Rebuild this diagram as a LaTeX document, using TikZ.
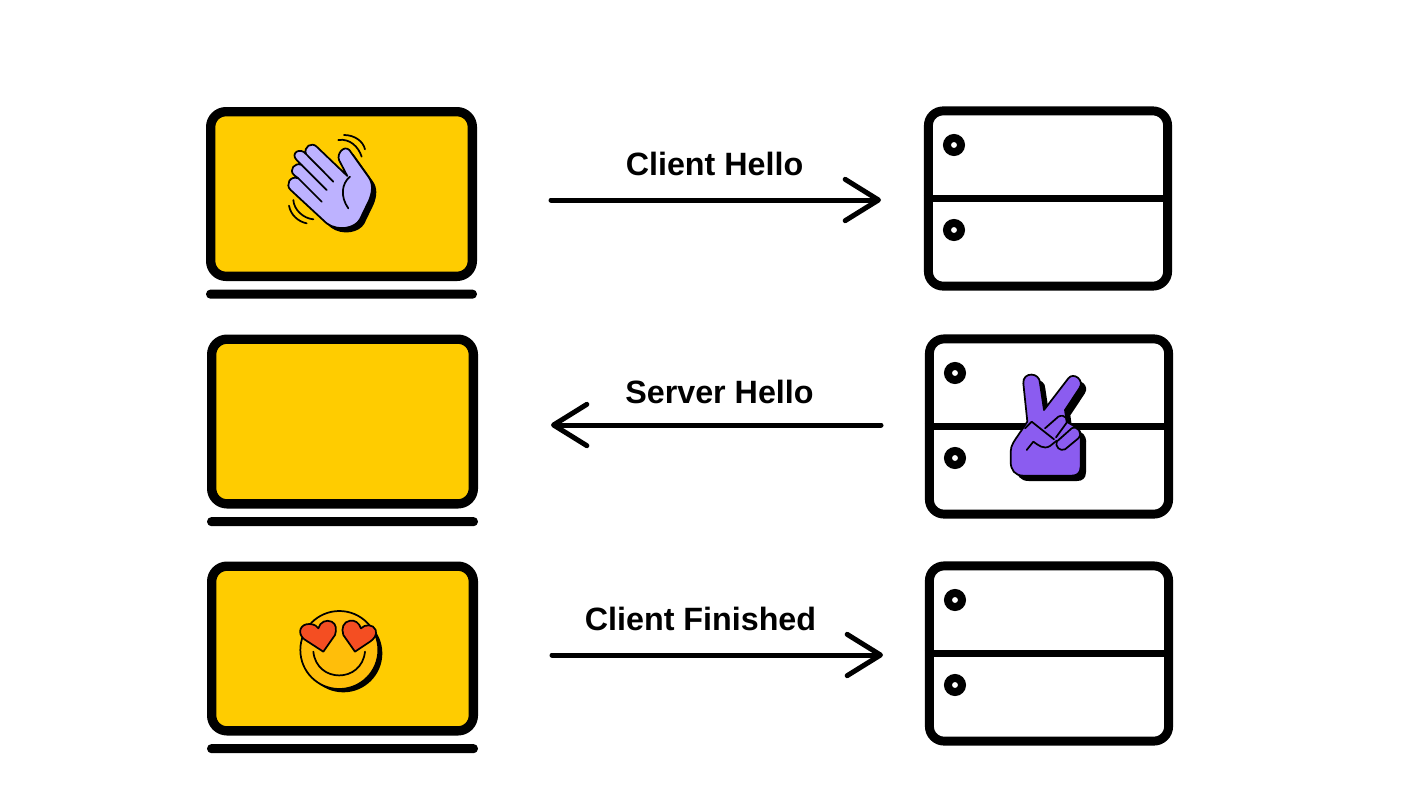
\documentclass[tikz,border=0pt]{standalone}
\usepackage{fontspec}
\setmainfont{Liberation Sans}
\usetikzlibrary{positioning,arrows.meta}

\definecolor{screenyellow}{HTML}{FFCC00}
\definecolor{handlilac}{HTML}{BDB2FF}
\definecolor{handviolet}{HTML}{8B5CF0}
\definecolor{heartred}{HTML}{F44E22}
\definecolor{smileamber}{HTML}{FFBE0A}

% icon outlines, in units of a third of a pixel
\def\waveoutline{(232,168) -- (207,120) .. controls (200,100) and (222,75) .. (238,90) -- (295,170) .. controls (310,190) and (308,215) .. (298,240) -- (270,298) .. controls (255,325) and (205,335) .. (170,310) -- (62,210) .. controls (45,195) and (60,165) .. (85,175) -- (72,165) .. controls (55,150) and (75,125) .. (95,135) -- (80,120) .. controls (60,100) and (90,80) .. (108,102) .. controls (100,80) and (125,65) .. (140,80) -- cycle}
\def\peaceoutline{(112,185) -- (100,70) .. controls (97,35) and (150,35) .. (150,70) -- (162,150) -- (235,55) .. controls (250,35) and (285,60) .. (268,85) -- (225,150) -- (230,185) -- (255,200) .. controls (270,205) and (275,225) .. (272,240) -- (272,320) .. controls (272,340) and (260,347) .. (245,347) -- (100,347) .. controls (75,347) and (62,330) .. (62,305) -- (62,275) .. controls (62,255) and (75,240) .. (85,225) -- cycle}

\begin{document}
\begin{tikzpicture}[
    x=0.75pt, y=-0.75pt,
    screen/.style={
        draw,
        line width=7pt,
        rounded corners=11.5pt,
        fill=screenyellow,
        minimum width=196.25pt,
        minimum height=123.5pt,
        inner sep=0pt
    },
    standbar/.style={
        fill=black,
        rounded corners=3.4pt,
        minimum width=203.25pt,
        minimum height=6.9pt,
        inner sep=0pt
    },
    rack/.style={
        draw,
        line width=6.7pt,
        rounded corners=11pt,
        fill=white,
        minimum width=179.4pt,
        minimum height=131.4pt,
        inner sep=0pt
    },
    led/.style={
        circle,
        draw,
        line width=6pt,
        fill=white,
        minimum size=10.5pt,
        inner sep=0pt
    },
    divider/.style={line width=5.5pt},
    message/.style={
        line width=3.75pt,
        line cap=round,
        -{Straight Barb[length=25pt,width=31pt,round]}
    },
    msglabel/.style={font=\fontsize{24.2}{29}\selectfont\bfseries},
    iconline/.style={line width=1.3pt, line cap=round, line join=round}
]
    \useasboundingbox (0,0) rectangle (1403,811);

    % Laptops
    \node[screen] (laptopA) at (341.5,194) {};
    \node[standbar, below=6.2pt of laptopA] (standA) {};
    \node[screen] (laptopB) at (342.5,421.5) {};
    \node[standbar, below=6.2pt of laptopB] (standB) {};
    \node[screen] (laptopC) at (342.5,648.5) {};
    \node[standbar, below=6.2pt of laptopC] (standC) {};

    % Servers
    \node[rack] (serverA) at (1048,198.5) {};
    \node[rack] (serverB) at (1049,426.5) {};
    \node[rack] (serverC) at (1049,653.5) {};
    \draw[divider] (serverA.west) -- (serverA.east);
    \draw[divider] (serverB.west) -- (serverB.east);
    \draw[divider] (serverC.west) -- (serverC.east);
    \node[led] (ledA1) at (954,145) {};
    \node[led] (ledA2) at (954,230) {};
    \node[led] (ledB1) at (955,373) {};
    \node[led] (ledB2) at (955,458) {};
    \node[led] (ledC1) at (955,600) {};
    \node[led] (ledC2) at (955,685) {};

    % Messages
    \coordinate (sendA) at (551,200);
    \coordinate (recvA) at (881,200);
    \coordinate (sendB) at (881,425);
    \coordinate (recvB) at (551,425);
    \coordinate (sendC) at (552,655);
    \coordinate (recvC) at (883,655);
    \draw[message] (sendA) -- (recvA);
    \draw[message] (sendB) -- (recvB);
    \draw[message] (sendC) -- (recvC);
    \node[msglabel] (labelA) at (714.5,164) {Client Hello};
    \node[msglabel] (labelB) at (719.5,392) {Server Hello};
    \node[msglabel] (labelC) at (700.5,619) {Client Finished};

    % Waving hand
    \begin{scope}[shift={(270,120)}, scale=1/3]
        \fill[shift={(13,13)}] \waveoutline;
        \draw[iconline, fill=handlilac] \waveoutline;
        \draw[iconline] (85,175) -- (155,245) (95,135) -- (170,210) (108,102) -- (190,185);
        \draw[iconline] (240,170) .. controls (215,190) and (210,230) .. (235,265);
        \draw[iconline] (205,60) .. controls (240,55) and (265,80) .. (275,110);
        \draw[iconline] (222,45) .. controls (255,45) and (280,65) .. (285,88);
        \draw[iconline] (70,240) .. controls (72,270) and (100,295) .. (130,298);
        \draw[iconline] (57,257) .. controls (62,285) and (85,305) .. (110,310);
    \end{scope}

    % Victory hand
    \begin{scope}[shift={(990,360)}, scale=1/3]
        \fill[shift={(16,16)}] \peaceoutline;
        \draw[iconline, fill=handviolet] \peaceoutline;
        \draw[iconline] (105,205) -- (125,185) -- (192,238);
        \draw[iconline] (165,205) -- (205,170) .. controls (225,160) and (240,180) .. (225,195) -- (198,232);
        \draw[iconline, fill=handviolet] (200,245) -- (245,205) .. controls (262,195) and (280,220) .. (265,235) -- (225,268) .. controls (210,275) and (195,260) .. (200,245);
        \draw[iconline] (110,270) -- (130,245) .. controls (145,255) and (160,270) .. (180,258) -- (200,242);
    \end{scope}

    % Smiley with heart eyes
    \begin{scope}[shift={(285,600)}, scale=1/3]
        \fill (175,160) circle[radius=117];
        \draw[iconline, fill=smileamber] (163,150) circle[radius=117];
        \draw[iconline, fill=heartred] (115,155) -- (58,118) .. controls (35,100) and (45,70) .. (75,72) .. controls (90,73) and (97,80) .. (100,85) .. controls (105,65) and (125,58) .. (140,65) .. controls (155,72) and (155,90) .. (150,105) -- cycle;
        \draw[iconline, fill=heartred] (210,155) -- (175,105) .. controls (168,85) and (175,65) .. (195,62) .. controls (210,60) and (222,68) .. (228,85) .. controls (240,72) and (265,72) .. (272,90) .. controls (278,105) and (265,118) .. (255,125) -- cycle;
        \draw[iconline] (85,155) .. controls (95,250) and (230,250) .. (240,155);
    \end{scope}
\end{tikzpicture}
\end{document}
